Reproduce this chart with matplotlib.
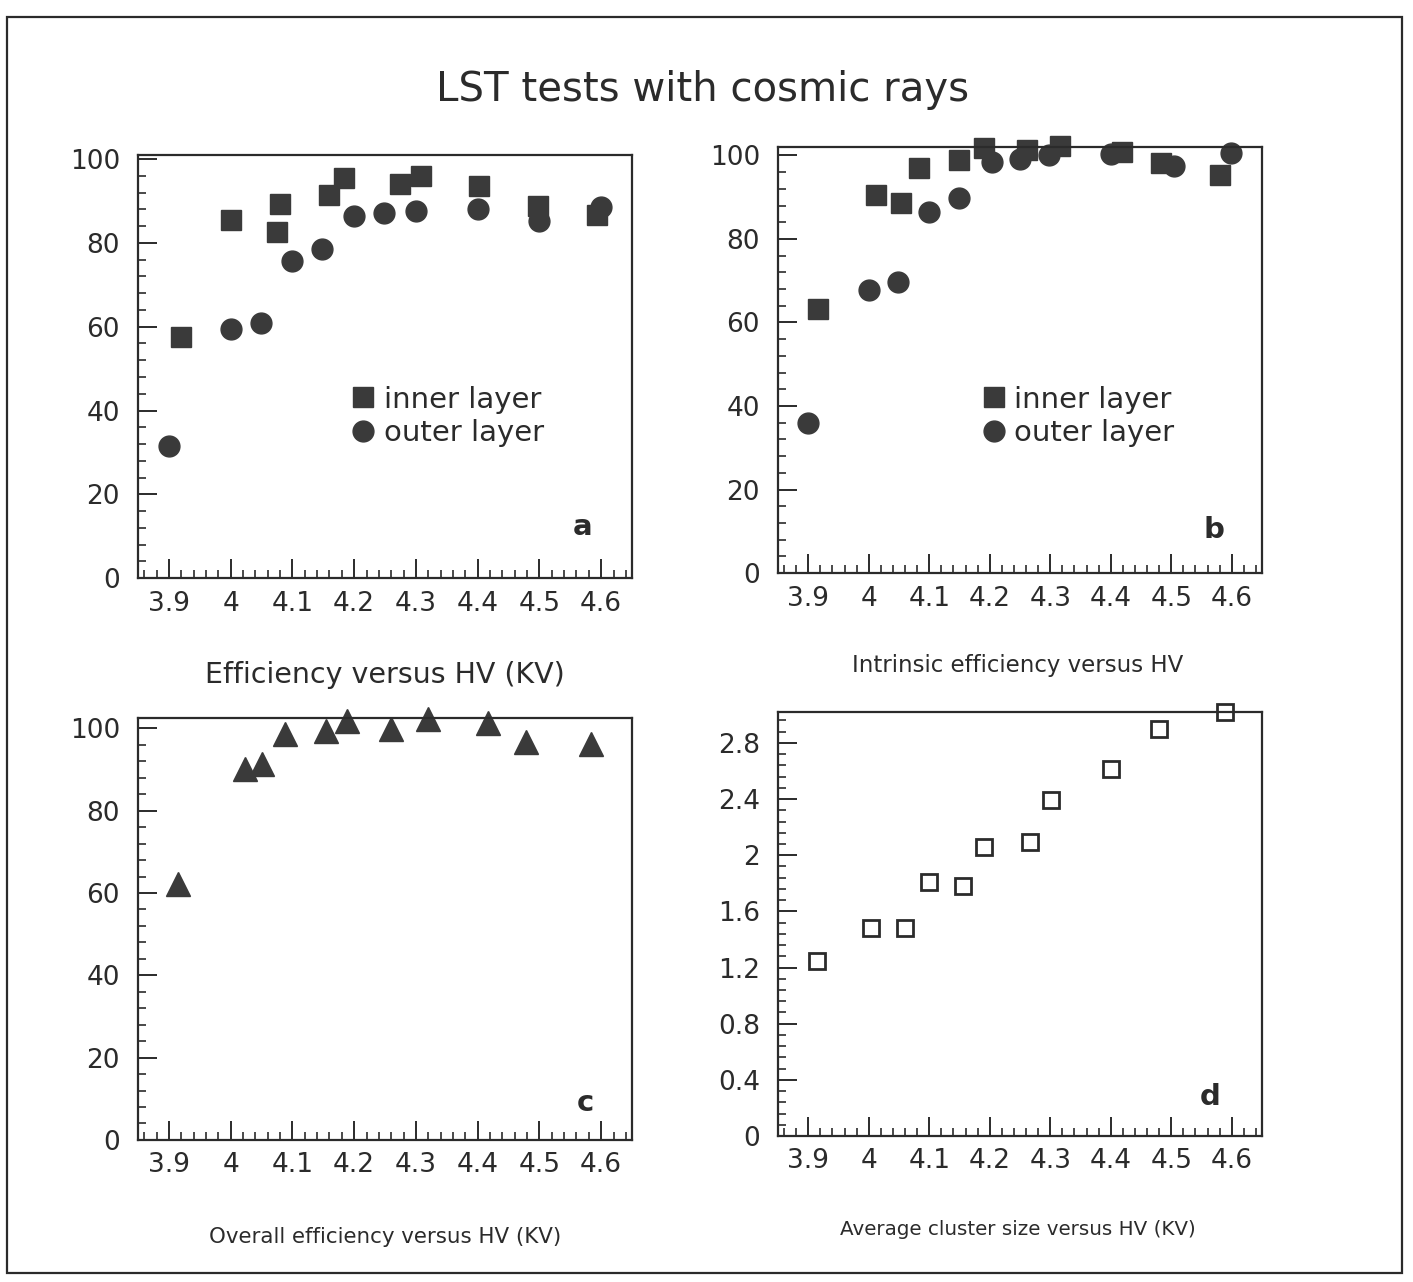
import numpy as np
import matplotlib
matplotlib.use("Agg")
import matplotlib.pyplot as plt
from matplotlib.ticker import MultipleLocator, FormatStrFormatter
from matplotlib.patches import Rectangle

# panel a: efficiency versus HV
hv_a_inner = [3.92, 4.00, 4.075, 4.08, 4.16, 4.184, 4.274, 4.309, 4.402, 4.497, 4.594]
eff_a_inner = [57.5, 85.5, 82.7, 89.3, 91.4, 95.5, 94.0, 95.9, 93.6, 88.9, 86.7]
hv_a_outer = [3.90, 4.00, 4.049, 4.10, 4.148, 4.199, 4.249, 4.30, 4.40, 4.50, 4.60]
eff_a_outer = [31.6, 59.5, 60.8, 75.7, 78.5, 86.4, 87.1, 87.7, 88.1, 85.2, 88.6]

# panel b: intrinsic efficiency versus HV
hv_b_inner = [3.916, 4.012, 4.054, 4.083, 4.15, 4.19, 4.262, 4.316, 4.418, 4.483, 4.58]
eff_b_inner = [63.3, 90.4, 88.6, 97.0, 99.0, 101.8, 101.4, 102.2, 100.8, 98.2, 95.4]
hv_b_outer = [3.90, 4.00, 4.049, 4.10, 4.149, 4.203, 4.25, 4.298, 4.401, 4.504, 4.599]
eff_b_outer = [35.9, 67.7, 69.6, 86.4, 89.9, 98.4, 99.2, 100.2, 100.4, 97.5, 100.6]

# panel c: overall efficiency versus HV
hv_c = [3.914, 4.024, 4.051, 4.088, 4.155, 4.188, 4.26, 4.32, 4.417, 4.478, 4.583]
eff_c = [62.1, 90.1, 91.3, 98.6, 99.4, 101.8, 99.9, 102.2, 101.4, 96.7, 96.2]

# panel d: average cluster size versus HV
hv_d = [3.914, 4.003, 4.06, 4.099, 4.155, 4.19, 4.266, 4.301, 4.401, 4.479, 4.589]
cluster_d = [1.244, 1.48, 1.48, 1.807, 1.78, 2.055, 2.095, 2.393, 2.615, 2.90, 3.02]

ink = '#2b2b2b'
mark = '#3a3a3a'
plt.rcParams['font.family'] = ['DejaVu Sans']

fig = plt.figure(figsize=(14.13, 12.82), dpi=100)


def style_axes(ax, ymax, ymajor, yminor):
    ax.set_xlim(3.85, 4.65)
    ax.set_ylim(0, ymax)
    ax.xaxis.set_major_locator(MultipleLocator(0.1))
    ax.xaxis.set_minor_locator(MultipleLocator(0.02))
    ax.yaxis.set_major_locator(MultipleLocator(ymajor))
    ax.yaxis.set_minor_locator(MultipleLocator(yminor))
    ax.xaxis.set_major_formatter(FormatStrFormatter('%g'))
    ax.yaxis.set_major_formatter(FormatStrFormatter('%g'))
    ax.tick_params(which='both', direction='in', top=False, right=False,
                   color=ink, labelcolor=ink, labelsize=19)
    ax.tick_params(which='major', length=14, width=1.4)
    ax.tick_params(which='minor', length=6, width=1.2)
    ax.tick_params(axis='y', pad=13)
    ax.tick_params(axis='x', pad=9)
    for s in ax.spines.values():
        s.set_linewidth(1.6)
        s.set_color(ink)


def add_legend(ax, anchor):
    ax.legend(loc='upper left', bbox_to_anchor=anchor, frameon=False,
              fontsize=21, handlelength=0.7, handletextpad=0.35, labelspacing=0.2,
              borderpad=0, borderaxespad=0, labelcolor=ink)


ax_a = fig.add_axes([0.0977, 0.5491, 0.3496, 0.3300])
ax_b = fig.add_axes([0.5506, 0.5530, 0.3425, 0.3323])
ax_c = fig.add_axes([0.0977, 0.1108, 0.3496, 0.3291])
ax_d = fig.add_axes([0.5506, 0.1139, 0.3425, 0.3307])

# a
ax_a.plot(hv_a_inner, eff_a_inner, 's', ms=14, color=mark, label='inner layer')
ax_a.plot(hv_a_outer, eff_a_outer, 'o', ms=15, color=mark, label='outer layer')
style_axes(ax_a, 101, 20, 4)
add_legend(ax_a, (0.435, 0.455))
ax_a.text(0.90, 0.12, 'a', transform=ax_a.transAxes, fontsize=21,
          fontweight='bold', ha='center', va='center', color=ink)

# b
ax_b.plot(hv_b_inner, eff_b_inner, 's', ms=14, color=mark, label='inner layer', clip_on=False)
ax_b.plot(hv_b_outer, eff_b_outer, 'o', ms=15, color=mark, label='outer layer', clip_on=False)
style_axes(ax_b, 102, 20, 4)
add_legend(ax_b, (0.425, 0.44))
ax_b.text(0.90, 0.10, 'b', transform=ax_b.transAxes, fontsize=21,
          fontweight='bold', ha='center', va='center', color=ink)

# c
ax_c.plot(hv_c, eff_c, '^', ms=17, color=mark, clip_on=False)
style_axes(ax_c, 102.5, 20, 4)
ax_c.text(0.905, 0.088, 'c', transform=ax_c.transAxes, fontsize=21,
          fontweight='bold', ha='center', va='center', color=ink)

# d
ax_d.plot(hv_d, cluster_d, 's', ms=12, mfc='white', mec=ink, mew=2.0, clip_on=False)
style_axes(ax_d, 3.02, 0.4, 0.08)
ax_d.text(0.893, 0.092, 'd', transform=ax_d.transAxes, fontsize=21,
          fontweight='bold', ha='center', va='center', color=ink)

fig.text(0.4975, 0.9298, 'LST tests with cosmic rays', fontsize=29,
         ha='center', va='center', color=ink)
fig.text(0.2725, 0.4735, 'Efficiency versus HV (KV)', fontsize=20.5,
         ha='center', va='center', color=ink)
fig.text(0.7205, 0.4805, 'Intrinsic efficiency versus HV', fontsize=16.5,
         ha='center', va='center', color=ink)
fig.text(0.2725, 0.0351, 'Overall efficiency versus HV (KV)', fontsize=15.4,
         ha='center', va='center', color=ink)
fig.text(0.7205, 0.0406, 'Average cluster size versus HV (KV)', fontsize=14.3,
         ha='center', va='center', color=ink)

# outer frame around the whole page
fig.patches.append(Rectangle((7 / 1413, 1 - 1273 / 1282), (1402 - 7) / 1413,
                             (1273 - 17) / 1282, transform=fig.transFigure,
                             fill=False, lw=1.6, ec=ink))

fig.savefig('out.png', dpi=100)
